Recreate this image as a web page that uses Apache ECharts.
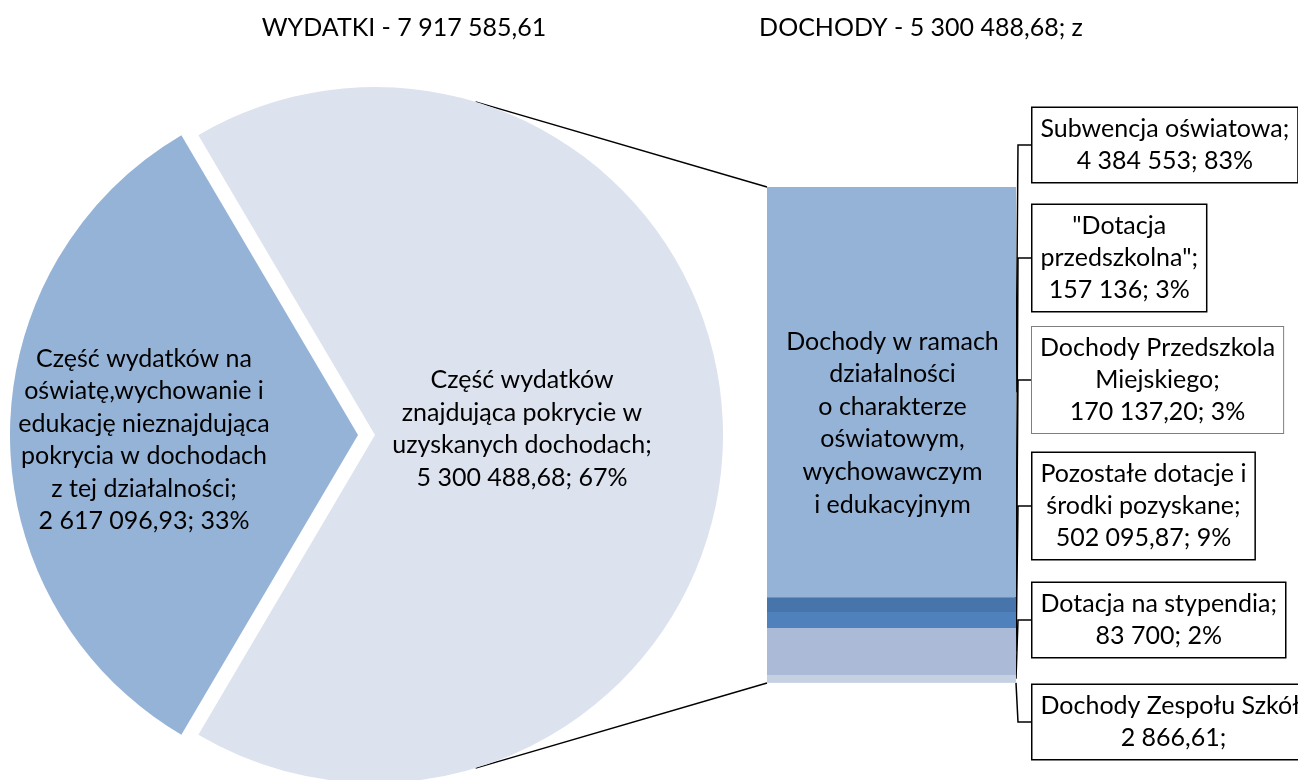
<!DOCTYPE html>
<html><head><meta charset="utf-8">
<script src="https://cdn.jsdelivr.net/npm/echarts@6/dist/echarts.min.js"></script>
<style>html,body{margin:0;padding:0;background:#fff}#c{width:1298px;height:780px}</style>
</head><body><div id="c"></div>
<script>
// ---- data ----
const titles = ['WYDATKI - 7 917 585,61', 'DOCHODY - 5 300 488,68; z'];
const pieNames = [
  'Część wydatków na\noświatę,wychowanie i\nedukację nieznajdująca\npokrycia w dochodach\nz tej działalności;',
  'Część wydatków\nznajdująca pokrycie w\nuzyskanych dochodach;'
];
const pieValues = [2617096.93, 5300488.68];
const pieValueText = ['2 617 096,93; 33%', '5 300 488,68; 67%'];
const barTitle = 'Dochody w ramach\ndziałalności\no charakterze\noświatowym,\nwychowawczym\ni edukacyjnym';
const barNames = ['Subwencja oświatowa;', '"Dotacja\nprzedszkolna";', 'Dochody Przedszkola\nMiejskiego;',
  'Pozostałe dotacje i\nśrodki pozyskane;', 'Dotacja na stypendia;', 'Dochody Zespołu Szkół;'];
const barValues = [4384553, 157136, 170137.20, 502095.87, 83700, 2866.61];
const barValueText = ['4 384 553; 83%', '157 136; 3%', '170 137,20; 3%', '502 095,87; 9%', '83 700; 2%', '2 866,61;'];

// ---- layout / style ----
const FONT = 'Lato';
const FS = 25;
const W = 1298;
const PIE_C = [375, 435], PIE_R = 348;
const GRID = {left: 767, right: 282, top: 187, bottom: 97};
const LABEL_Y = [145, 258, 380, 506, 620, 722];
const BOX_GAP = 15;
const pieColors = ['#95B3D7', '#DCE2EE'];
const barColors = ['#95B3D7', '#4775AB', '#4F81BD', '#ABBAD7', '#C5D0E2', '#B9C9E0'];
const boxBorder = ['#000', '#000', '#7f7f7f', '#000', '#000', '#000'];
const boxBorderW = [1.5, 1.5, 1, 1.5, 1.5, 1.5];

const total = barValues.reduce((a, b) => a + b, 0);
const smallShare = pieValues[0] / (pieValues[0] + pieValues[1]);
const startAngle = 180 + smallShare * 180;
const pieLabelShift = [[-37, 5], [-15, -3]];

const chart = echarts.init(document.getElementById('c'), null, {renderer: 'canvas'});

const barSeries = barValues.map((v, i) => ({
  type: 'bar', name: barNames[i], stack: 'd', data: [v],
  barWidth: '100%', barGap: '-100%',
  itemStyle: {color: barColors[i]},
  emphasis: {disabled: true}, silent: true,
  label: {
    show: true, formatter: () => barNames[i] + '\n' + barValueText[i],
    fontFamily: FONT, fontSize: FS, lineHeight: 32, color: '#000',
    backgroundColor: '#fff', borderColor: boxBorder[i], borderWidth: boxBorderW[i],
    padding: [5, 8]
  },
  labelLayout: (p) => ({
    x: p.rect.x + p.rect.width + BOX_GAP + p.labelRect.width / 2,
    y: LABEL_Y[i], align: 'center', verticalAlign: 'middle'
  })
}));

const option = {
  animation: false,
  backgroundColor: '#fff',
  title: titles.map((t, i) => ({
    text: t, left: i === 0 ? 404 : 921, top: 28, padding: 0,
    textAlign: 'center', textVerticalAlign: 'middle',
    textStyle: {fontFamily: FONT, fontSize: FS, fontWeight: 'normal', color: '#000'}
  })),
  grid: GRID,
  xAxis: {type: 'category', data: [''], show: false},
  yAxis: {type: 'value', min: 0, max: total, inverse: true, show: false},
  series: [
    {
      type: 'pie', center: PIE_C, radius: PIE_R, startAngle: startAngle, clockwise: true,
      selectedMode: 'single', selectedOffset: 17, avoidLabelOverlap: false,
      emphasis: {disabled: true}, silent: true,
      itemStyle: {borderWidth: 0},
      data: pieValues.map((v, i) => ({value: v, name: pieNames[i], selected: i === 0,
        itemStyle: {color: pieColors[i]}, select: {itemStyle: {color: pieColors[i]}}})),
      label: {
        show: true, position: 'inside', formatter: (p) => pieNames[p.dataIndex] + '\n' + pieValueText[p.dataIndex],
        fontFamily: FONT, fontSize: FS, lineHeight: 32.5, color: '#000', align: 'center'
      },
      labelLine: {show: false},
      labelLayout: (p) => ({dx: pieLabelShift[p.dataIndex][0], dy: pieLabelShift[p.dataIndex][1]})
    },
    ...barSeries,
    {
      type: 'bar', name: 'title', data: [total], barWidth: '100%', barGap: '-100%',
      itemStyle: {color: 'rgba(0,0,0,0)'}, silent: true, emphasis: {disabled: true},
      label: {show: true, position: 'inside', formatter: barTitle, offset: [1, -12],
        fontFamily: FONT, fontSize: FS, lineHeight: 32.6, color: '#000', align: 'center'}
    }
  ]
};
chart.setOption(option);

// connector lines between the pie and the bar, and leader lines to the label boxes
const topPx = chart.convertToPixel({yAxisIndex: 0}, 0);
const botPx = chart.convertToPixel({yAxisIndex: 0}, total);
const ang = 73.2 * Math.PI / 180;
const pT = [PIE_C[0] + PIE_R * Math.cos(ang), PIE_C[1] - PIE_R * Math.sin(ang)];
const pB = [PIE_C[0] + PIE_R * Math.cos(ang), PIE_C[1] + PIE_R * Math.sin(ang)];
const barRight = W - GRID.right;
const graphics = [
  {type: 'line', shape: {x1: pT[0], y1: pT[1], x2: GRID.left, y2: topPx}, style: {stroke: '#000', lineWidth: 1.5}, silent: true},
  {type: 'line', shape: {x1: pB[0], y1: pB[1], x2: GRID.left, y2: botPx}, style: {stroke: '#000', lineWidth: 1.5}, silent: true}
];
let cum = 0;
barValues.forEach((v, i) => {
  const midY = chart.convertToPixel({yAxisIndex: 0}, cum + v / 2);
  cum += v;
  graphics.push({type: 'polyline', silent: true, z: 1,
    shape: {points: [[barRight, midY], [barRight + 2, LABEL_Y[i]], [barRight + BOX_GAP, LABEL_Y[i]]]},
    style: {stroke: '#000', lineWidth: 1.5, fill: null}});
});
chart.setOption({graphic: graphics});
</script></body></html>
